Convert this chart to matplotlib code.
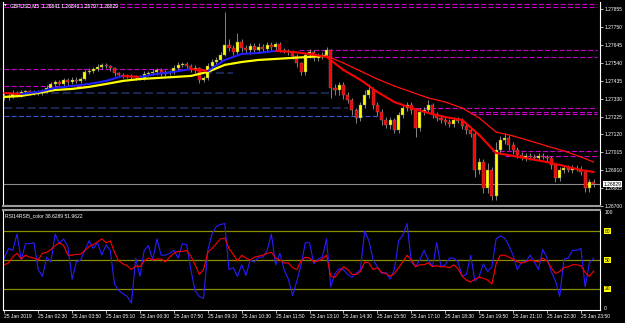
import matplotlib
matplotlib.use("Agg")
import matplotlib.pyplot as plt
from matplotlib.transforms import blended_transform_factory

# GBPUSD M5 chart, 25 Jan 2019 (one point per 10 minutes)
closes = [
    1.27346, 1.27340, 1.27357, 1.27352, 1.27369, 1.27375, 1.27363, 1.27369, 1.27363, 1.27375,
    1.27393, 1.27416, 1.27428, 1.27416, 1.27440, 1.27428, 1.27440, 1.27434, 1.27445, 1.27487,
    1.27492, 1.27504, 1.27516, 1.27528, 1.27522, 1.27510, 1.27481, 1.27469, 1.27463, 1.27457,
    1.27463, 1.27457, 1.27451, 1.27475, 1.27481, 1.27487, 1.27498, 1.27475, 1.27487, 1.27481,
    1.27510, 1.27528, 1.27534, 1.27522, 1.27498, 1.27510, 1.27440, 1.27451, 1.27522, 1.27545,
    1.27557, 1.27586, 1.27645, 1.27627, 1.27604, 1.27663, 1.27627, 1.27616, 1.27639, 1.27616,
    1.27633, 1.27622, 1.27645, 1.27633, 1.27651, 1.27616, 1.27610, 1.27604, 1.27581, 1.27539,
    1.27487, 1.27586, 1.27604, 1.27569, 1.27581, 1.27586, 1.27616, 1.27393, 1.27381, 1.27410,
    1.27352, 1.27322, 1.27264, 1.27217, 1.27293, 1.27352, 1.27381, 1.27293, 1.27252, 1.27205,
    1.27176, 1.27205, 1.27146, 1.27234, 1.27275, 1.27293, 1.27264, 1.27158, 1.27252, 1.27264,
    1.27293, 1.27234, 1.27217, 1.27205, 1.27193, 1.27181, 1.27205, 1.27199, 1.27170, 1.27146,
    1.27123, 1.26911, 1.26958, 1.26806, 1.26911, 1.26759, 1.27029, 1.27087, 1.27099, 1.27058,
    1.27029, 1.26999, 1.26982, 1.26994, 1.26988, 1.26982, 1.26994, 1.26988, 1.26982, 1.26941,
    1.26864, 1.26911, 1.26923, 1.26911, 1.26923, 1.26917, 1.26900, 1.26806, 1.26841, 1.26829,
]
first_open = 1.27340
# wick lengths in pips above / below the body
upper_wick = [
    1.8, 1.8, 2.3, 1.8, 1.2, 0.6, 0.6, 1.2, 1.2, 1.2,
    1.8, 1.2, 1.2, 1.2, 1.2, 1.2, 1.8, 1.8, 1.2, 1.2,
    1.8, 1.2, 1.8, 1.2, 1.2, 0.6, 0.6, 0.6, 1.2, 1.2,
    1.2, 0.6, 1.2, 1.8, 1.2, 1.8, 1.2, 1.2, 1.2, 1.2,
    1.8, 1.8, 1.2, 1.2, 1.2, 1.8, 0.6, 1.2, 1.8, 1.8,
    1.8, 1.8, 19.4, 3.5, 1.8, 5.3, 1.8, 1.8, 1.8, 1.8,
    2.3, 1.8, 1.8, 1.8, 1.2, 1.2, 1.2, 1.2, 1.2, 1.2,
    0.6, 1.2, 1.8, 1.2, 1.8, 1.8, 1.8, 0.6, 2.3, 1.8,
    1.8, 1.8, 1.2, 1.2, 1.8, 2.9, 3.5, 1.8, 1.8, 1.8,
    1.8, 1.8, 1.2, 1.8, 1.8, 1.8, 1.8, 1.2, 2.3, 1.8,
    2.9, 1.2, 1.8, 1.8, 1.8, 1.8, 1.8, 1.8, 1.8, 1.2,
    1.8, 1.2, 2.3, 1.8, 4.1, 1.8, 4.7, 2.3, 2.9, 1.8,
    1.8, 1.8, 1.8, 1.8, 1.8, 1.8, 1.8, 1.8, 1.2, 1.2,
    1.2, 1.8, 1.8, 1.8, 1.8, 1.8, 1.8, 1.2, 1.8, 1.8,
]
lower_wick = [
    1.8, 1.8, 0.6, 1.2, 1.2, 1.8, 1.2, 1.2, 1.2, 1.2,
    1.2, 1.2, 1.2, 0.6, 1.2, 1.8, 1.2, 1.2, 1.2, 0.6,
    1.2, 1.2, 1.2, 1.2, 1.2, 1.8, 1.8, 1.2, 1.2, 0.6,
    1.2, 1.8, 1.2, 1.2, 1.2, 1.2, 1.8, 1.2, 1.2, 1.2,
    0.6, 1.2, 1.2, 1.2, 1.2, 1.8, 1.8, 1.2, 1.2, 1.2,
    1.2, 1.2, 0.6, 1.8, 1.8, 1.2, 2.3, 1.8, 2.3, 1.8,
    1.8, 1.8, 1.8, 1.8, 1.8, 1.2, 1.2, 1.8, 1.8, 2.3,
    1.8, 1.8, 1.8, 1.8, 1.8, 1.8, 1.2, 5.9, 2.9, 2.9,
    2.3, 1.8, 2.9, 2.9, 1.8, 1.8, 1.8, 2.3, 2.3, 2.9,
    1.8, 2.3, 1.8, 1.8, 1.8, 1.8, 2.3, 5.3, 1.8, 1.8,
    1.8, 1.8, 1.8, 1.8, 1.8, 1.8, 1.8, 1.2, 1.8, 2.3,
    1.8, 4.1, 2.3, 2.9, 2.9, 2.3, 2.3, 1.8, 2.3, 2.9,
    2.3, 1.8, 1.2, 1.8, 1.8, 1.2, 1.8, 1.2, 1.8, 2.3,
    2.3, 1.8, 1.8, 1.2, 1.8, 1.2, 1.8, 2.3, 2.3, 1.8,
]

ma_idx = list(range(0, 137, 4)) + [139]
ma_fast = [
    1.27363, 1.27357, 1.27369, 1.27393, 1.27404, 1.27416, 1.27434, 1.27463, 1.27457, 1.27475,
    1.27487, 1.27504, 1.27492, 1.27557, 1.27592, 1.27598, 1.27610, 1.27604, 1.27592, 1.27575,
    1.27498, 1.27440, 1.27369, 1.27310, 1.27275, 1.27246, 1.27222, 1.27205, 1.27117, 1.27011,
    1.26994, 1.26976, 1.26958, 1.26935, 1.26911, 1.26900,
]
ma_slow = [
    1.27340, 1.27346, 1.27363, 1.27381, 1.27387, 1.27399, 1.27416, 1.27434, 1.27445, 1.27451,
    1.27457, 1.27463, 1.27487, 1.27528, 1.27545, 1.27557, 1.27563, 1.27569, 1.27575, 1.27581,
    1.27539, 1.27492, 1.27445, 1.27404, 1.27369, 1.27334, 1.27310, 1.27275, 1.27217, 1.27134,
    1.27111, 1.27082, 1.27052, 1.27023, 1.26988, 1.26958,
]

magenta_levels = [1.27886, 1.27868, 1.27616, 1.27575, 1.27504, 1.27404, 1.27275, 1.27252, 1.27240, 1.27023, 1.26994]
magenta_from = [0, 0, 69.5, 76, 0, 0, 97, 110, 110, 115, 118]
magenta_to = [139.8, 139.8, 139.8, 139.8, 48, 19.6, 139.8, 139.8, 139.8, 139.8, 139.8]
blue_levels = [1.27481, 1.27363, 1.27275, 1.27228]
blue_from = [47, 0, 0, 0]
blue_to = [54, 77, 81, 88]

rsi_fast = [
    52, 62, 60, 77, 50, 67, 67, 68, 40, 33, 53, 48, 77, 67, 72, 64, 30, 48, 50, 60,
    70, 62, 68, 55, 66, 60, 25, 18, 15, 12, 5, 52, 33, 60, 65, 50, 72, 55, 55, 57,
    60, 52, 67, 66, 40, 18, 12, 10, 60, 77, 85, 87, 88, 40, 42, 33, 45, 34, 50, 48,
    53, 53, 60, 77, 45, 57, 40, 30, 13, 28, 45, 68, 68, 46, 51, 53, 72, 22, 36, 41,
    40, 35, 32, 36, 40, 80, 70, 50, 43, 36, 37, 30, 40, 70, 76, 88, 48, 43, 50, 60,
    50, 43, 68, 43, 45, 52, 52, 48, 33, 35, 55, 28, 33, 46, 38, 43, 72, 75, 73, 65,
    55, 40, 48, 48, 55, 48, 40, 61, 52, 38, 28, 12, 51, 52, 60, 60, 62, 22, 47, 51.96,
]
rsi_slow = [
    45, 47, 53, 57, 51, 55, 53, 52, 50, 57, 58, 61, 65, 68, 65, 55, 55, 56, 56, 60,
    64, 66, 69, 72, 68, 70, 58, 49, 46, 44, 40, 44, 43, 49, 52, 50, 51, 51, 48, 53,
    57, 59, 59, 60, 54, 45, 35, 40, 58, 62, 67, 72, 73, 62, 56, 49, 55, 52, 50, 53,
    54, 55, 57, 58, 52, 50, 47, 47, 42, 40, 49, 53, 52, 48, 49, 51, 55, 33, 32, 38,
    43, 40, 35, 35, 38, 48, 47, 40, 42, 37, 36, 33, 36, 42, 48, 55, 50, 43, 45, 45,
    47, 43, 44, 43, 43, 42, 45, 41, 33, 29, 27, 30, 32, 31, 29, 25, 46, 55, 55, 53,
    51, 48, 47, 48, 50, 49, 48, 52, 49, 42, 36, 38, 42, 43, 45, 45, 44, 37, 33, 38.63,
]
rsi_levels = [80, 50, 20]

price_ticks = [1.27855, 1.27750, 1.27645, 1.27540, 1.27435, 1.27330, 1.27225,
               1.27120, 1.27015, 1.26910, 1.26805, 1.26700]
time_labels = ["25 Jan 2019", "25 Jan 02:30", "25 Jan 03:50", "25 Jan 05:10", "25 Jan 06:30",
               "25 Jan 07:50", "25 Jan 09:10", "25 Jan 10:30", "25 Jan 11:50", "25 Jan 13:10",
               "25 Jan 14:30", "25 Jan 15:50", "25 Jan 17:10", "25 Jan 18:30", "25 Jan 19:50",
               "25 Jan 21:10", "25 Jan 22:30", "25 Jan 23:50"]
title = "GBPUSD,M5  1.26841 1.26846 1.26797 1.26829"
rsi_title = "RSI14RSI5_color 38.6289 51.9622"

PIP = 0.0001
plt.rcParams["font.family"] = ["Liberation Sans", "DejaVu Sans"]
FS = 3.6

fig = plt.figure(figsize=(6.25, 3.23), dpi=100, facecolor="black")
ax = fig.add_axes([3 / 625, 1 - 206 / 323, 597 / 625, 204 / 323], facecolor="black")
ax2 = fig.add_axes([3 / 625, 1 - 310 / 323, 597 / 625, 100 / 323], facecolor="black")

n = len(closes)
xs = list(range(n))
opens = [first_open] + closes[:-1]

# horizontal levels
for p, a, b in zip(magenta_levels, magenta_from, magenta_to):
    ax.plot([a, b], [p, p], color="#cc00cc", lw=0.8, ls=(0, (4.5, 2)))
blue_cols = ["#1e2a5c", "#1e2a5c", "#1e2a5c", "#3355d6"]
blue_lw = [1.3, 1.3, 1.3, 0.8]
for p, a, b, c, w in zip(blue_levels, blue_from, blue_to, blue_cols, blue_lw):
    ax.plot([a, b], [p, p], color=c, lw=w, ls=(0, (4.5, 2)))

# bid line
ax.axhline(closes[-1], color="#8a8a8a", lw=0.8)

# candles
for i in xs:
    o, c = opens[i], closes[i]
    hi = max(o, c) + upper_wick[i] * PIP
    lo = min(o, c) - lower_wick[i] * PIP
    ax.vlines(i, lo, hi, color="#9a9a9a", lw=0.6, zorder=2)
    col = "#ffff00" if c >= o else "#ff0000"
    ax.bar(i, max(abs(c - o), 0.00002), bottom=min(o, c), width=0.72,
           color=col, edgecolor="#777777", lw=0.3, zorder=3)

# moving averages, coloured by direction
for j in range(len(ma_idx) - 1):
    x0, x1 = ma_idx[j], ma_idx[j + 1]
    up = ma_slow[j + 1] >= ma_slow[j]
    ax.plot([x0, x1], [ma_slow[j], ma_slow[j + 1]], color="#ffff00" if up else "#ff1010",
            lw=1.6 if up else 0.9, solid_capstyle="round", zorder=4)
for j in range(len(ma_idx) - 1):
    x0, x1 = ma_idx[j], ma_idx[j + 1]
    up = ma_fast[j + 1] >= ma_fast[j]
    ax.plot([x0, x1], [ma_fast[j], ma_fast[j + 1]], color="#2020ff" if up else "#ff0000",
            lw=1.5, solid_capstyle="round", zorder=5)

ax.set_xlim(-0.3, 140.5)
ax.set_ylim(1.26700, 1.27897)
ax.yaxis.tick_right()
ax.set_yticks(price_ticks)
ax.set_yticklabels([f"{p:.5f}" for p in price_ticks])
ax.tick_params(axis="y", colors="white", labelsize=FS, length=2, width=0.5, pad=1)
ax.set_xticks([])
for s in ["left", "right"]:
    ax.spines[s].set_color("white")
    ax.spines[s].set_linewidth(0.8)
ax.spines["top"].set_visible(False)
ax.spines["bottom"].set_color("#9a9a9a")
ax.spines["bottom"].set_linewidth(1.5)

tr = blended_transform_factory(ax.transAxes, ax.transData)
ax.text(1.006, closes[-1], f"{closes[-1]:.5f}", transform=tr, fontsize=FS, color="black",
        va="center", ha="left", bbox=dict(boxstyle="square,pad=0.15", fc="white", ec="none"))
ax.text(0.002, 0.982, "\u25bc", transform=ax.transAxes, fontsize=2.5, color="white",
        va="center", ha="left", family="DejaVu Sans")
ax.text(0.012, 0.982, title, transform=ax.transAxes, fontsize=FS, color="white",
        va="center", ha="left")

# RSI panel
for lv in rsi_levels:
    ax2.axhline(lv, color="#8c8c00", lw=0.9)
ax2.plot(xs, rsi_fast, color="#2a1cff", lw=0.8)
ax2.plot(xs, rsi_slow, color="#ff0000", lw=0.8)
ax2.set_xlim(-0.3, 140.5)
ax2.set_ylim(-2.1, 102.1)
ax2.yaxis.tick_right()
ax2.set_yticks([100, 0])
ax2.set_yticklabels(["100", "0"])
ax2.tick_params(axis="y", colors="white", labelsize=FS, length=0, pad=3)
tr2 = blended_transform_factory(ax2.transAxes, ax2.transData)
for lv in rsi_levels:
    ax2.text(1.008, lv, str(lv), transform=tr2, fontsize=FS, color="black", va="center",
             ha="left", bbox=dict(boxstyle="square,pad=0.15", fc="#ffff00", ec="none"))
ax2.set_xticks(list(range(0, n, 8)))
ax2.set_xticklabels(time_labels, ha="left")
ax2.tick_params(axis="x", colors="white", labelsize=FS, length=2, width=0.5, pad=1)
for s in ["left", "right", "bottom"]:
    ax2.spines[s].set_color("white")
    ax2.spines[s].set_linewidth(0.8)
ax2.spines["top"].set_color("#9a9a9a")
ax2.spines["top"].set_linewidth(1.5)
ax2.text(0.003, 0.94, rsi_title, transform=ax2.transAxes, fontsize=FS, color="white",
         va="center", ha="left")

fig.savefig("out.png", dpi=100, facecolor="black")
